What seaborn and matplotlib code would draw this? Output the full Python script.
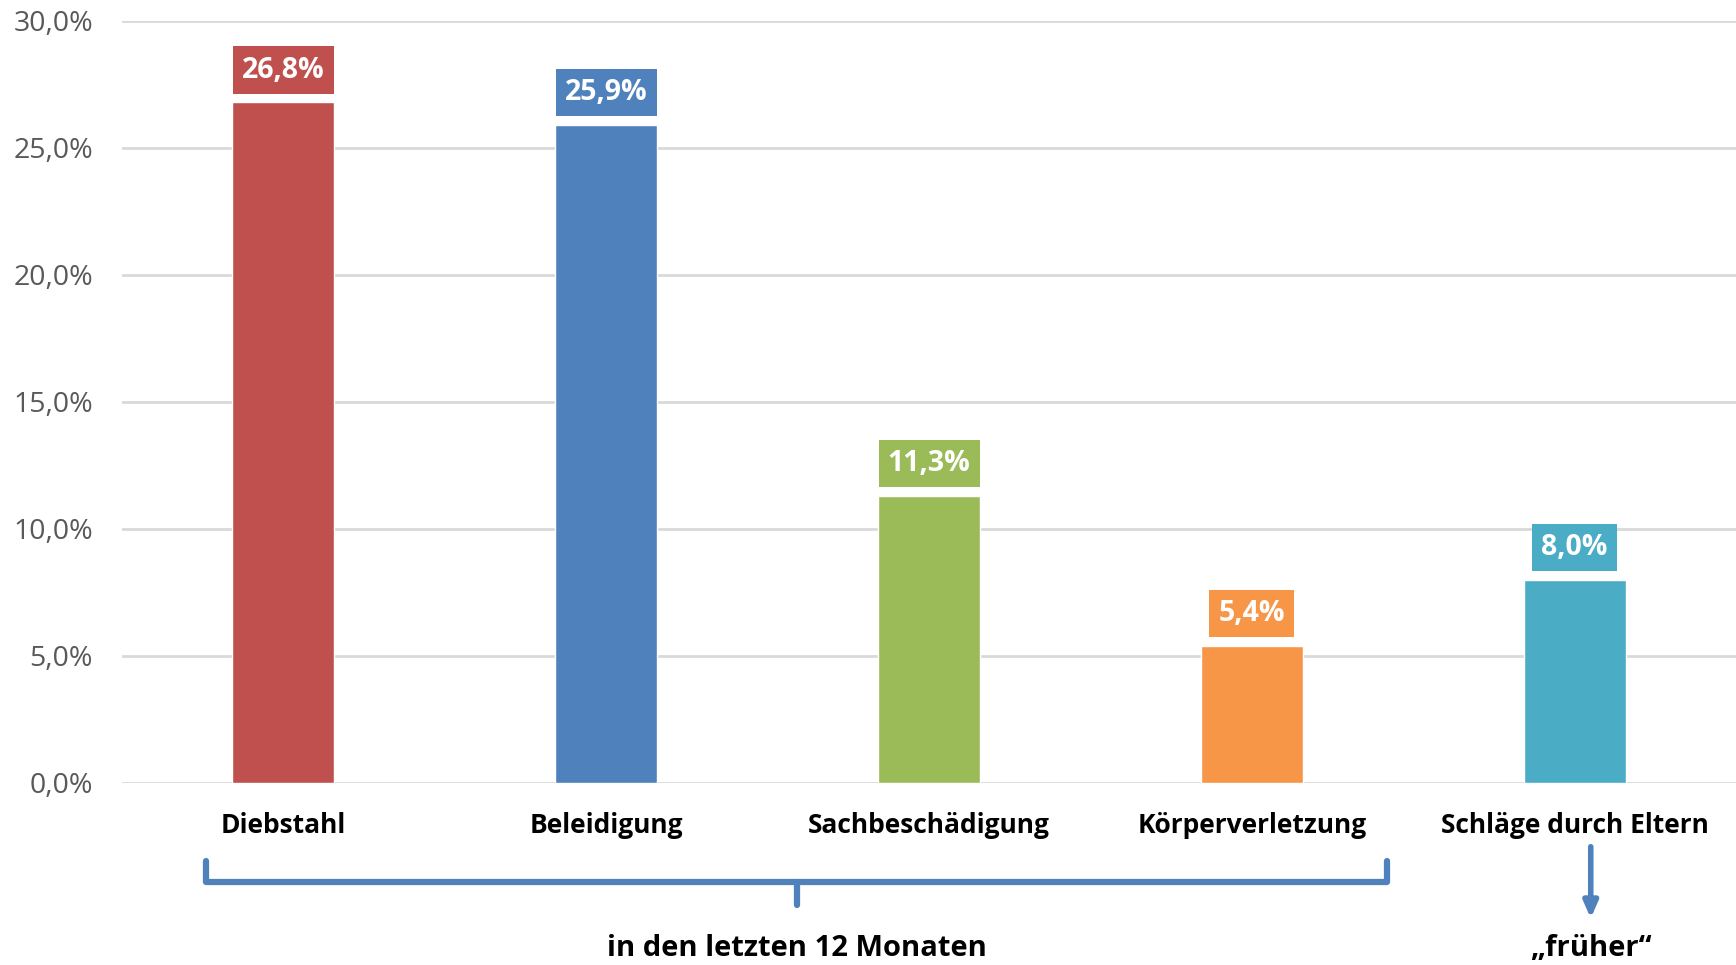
import matplotlib
matplotlib.use("Agg")
import matplotlib.pyplot as plt
import seaborn as sns
import pandas as pd
from matplotlib.ticker import FuncFormatter
from matplotlib.transforms import blended_transform_factory

categories = ["Diebstahl", "Beleidigung", "Sachbeschädigung", "Körperverletzung", "Schläge durch Eltern"]
values = [26.8, 25.9, 11.3, 5.4, 8.0]
colors = ["#C0504D", "#4F81BD", "#9BBB59", "#F79646", "#4BACC6"]
group_label = "in den letzten 12 Monaten"
early_label = "„früher“"

sns.set_theme(style="white")
plt.rcParams['font.family'] = ['Open Sans', 'DejaVu Sans']

df = pd.DataFrame({"cat": categories, "val": values})

fig = plt.figure(figsize=(17.36, 9.65), dpi=100)
ax = fig.add_axes([0.0703, 0.1889, 0.9297, 0.7896])

sns.barplot(data=df, x="cat", y="val", hue="cat", palette=colors, width=0.316,
            legend=False, ax=ax, saturation=1)

ax.set_ylim(0, 30)
ax.set_xlim(-0.5, 4.5)
ax.set_yticks([0, 5, 10, 15, 20, 25, 30])
ax.yaxis.set_major_formatter(FuncFormatter(lambda v, p: f"{v:.1f}%".replace(".", ",")))
ax.grid(axis="y", color="#D9D9D9", linewidth=2)
ax.set_axisbelow(True)
for s in ax.spines.values():
    s.set_visible(False)
ax.set_xlabel("")
ax.set_ylabel("")
ax.tick_params(axis="y", length=0, pad=21, labelsize=20.5, labelcolor="#595959")
ax.tick_params(axis="x", length=0, pad=21, labelsize=19)
for t in ax.get_xticklabels():
    t.set_fontweight("bold")
    t.set_color("black")

for i, (v, c) in enumerate(zip(values, colors)):
    lab = f"{v:.1f}%".replace(".", ",")
    ax.annotate(lab, xy=(i, v), xytext=(0, 32), textcoords="offset pixels",
                ha="center", va="center", color="white", fontsize=20.5, fontweight="bold",
                bbox=dict(boxstyle="square,pad=0.32", fc=c, ec="none"))

# bracket
tr = blended_transform_factory(ax.transData, ax.transAxes)
x0, x1 = -0.24, 3.42
xm = (x0 + x1) / 2
yt, yb, ytip = -0.103, -0.130, -0.160
bl = "#4F81BD"
kw = dict(transform=tr, clip_on=False, color=bl, lw=4.5, solid_capstyle="round", solid_joinstyle="round")
ax.plot([x0, x0, x1, x1], [yt, yb, yb, yt], **kw)
ax.plot([xm, xm], [yb, ytip], **kw)
ax.text(xm, -0.217, group_label, transform=tr, ha="center", va="center",
        fontsize=21, fontweight="bold", color="black")

# arrow
xa = 4.05
ax.annotate("", xy=(xa, -0.178), xytext=(xa, -0.084), xycoords=tr, textcoords=tr,
            arrowprops=dict(arrowstyle="-|>,head_length=0.8,head_width=0.35", color=bl, lw=4,
                            shrinkA=0, shrinkB=0))
ax.text(xa, -0.217, early_label, transform=tr, ha="center", va="center",
        fontsize=21, fontweight="bold", color="black")

fig.savefig("out.png", dpi=100, facecolor="white")
